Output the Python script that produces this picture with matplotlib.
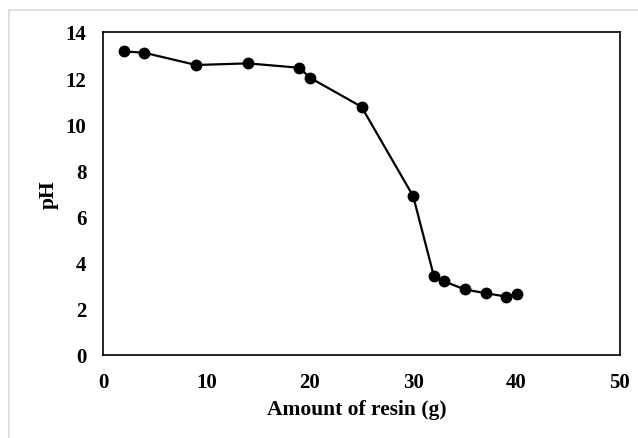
import matplotlib.pyplot as plt
from matplotlib.patches import Rectangle

# data
resin_g = [2, 4, 9, 14, 19, 20, 25, 30, 32, 33, 35, 37, 39, 40]
ph = [13.16, 13.1, 12.57, 12.64, 12.45, 12.02, 10.76, 6.88, 3.42, 3.19, 2.84, 2.68, 2.53, 2.66]

x_ticks = [0, 10, 20, 30, 40, 50]
y_ticks = [0, 2, 4, 6, 8, 10, 12, 14]

plt.rcParams['font.family'] = ['Liberation Serif', 'DejaVu Serif']
plt.rcParams['font.weight'] = 'bold'

fig = plt.figure(figsize=(6.38, 4.39), dpi=100)
ax = fig.add_axes([103 / 638, 1 - 356 / 439, 517 / 638, 323 / 439])

ax.plot(resin_g, ph, color='black', lw=1.6, marker='o', ms=7.5, zorder=3)

ax.set_xlim(0, 50)
ax.set_ylim(0, 14)
ax.set_xticks(x_ticks)
ax.set_yticks(y_ticks)
ax.tick_params(axis='both', length=0, labelsize=15)
ax.tick_params(axis='x', pad=12)
ax.tick_params(axis='y', pad=12)
for lab in ax.get_xticklabels() + ax.get_yticklabels():
    lab.set_fontweight('bold')

for s in ax.spines.values():
    s.set_color('black')
    s.set_linewidth(1.2)

ax.set_xlabel('Amount of resin (g)', fontsize=15.5, fontweight='bold')
ax.set_ylabel('pH', fontsize=15.5, fontweight='bold')
ax.xaxis.set_label_coords(0.49, -0.135)
ax.yaxis.set_label_coords(-0.085, 0.5)

# light grey chart-area border (left and top visible in the original)
fig.patches.append(Rectangle((9 / 638, -0.05), 1.2, 1 - 11 / 439 + 0.05,
                             transform=fig.transFigure, fill=False,
                             edgecolor='#d9d9d9', lw=1.2))

fig.savefig('out.png', dpi=100)
